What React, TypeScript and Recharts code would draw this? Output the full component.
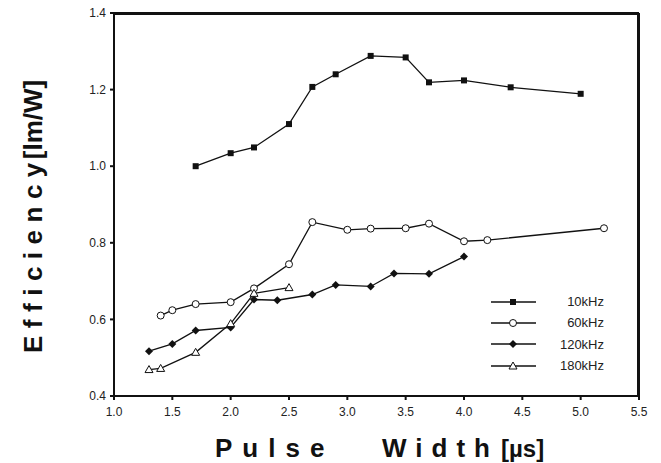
import { LineChart, Line, XAxis, YAxis } from 'recharts'

const X_10 = [1.7, 2.0, 2.2, 2.5, 2.7, 2.9, 3.2, 3.5, 3.7, 4.0, 4.4, 5.0]
const Y_10 = [1.0, 1.034, 1.049, 1.11, 1.207, 1.24, 1.288, 1.284, 1.219, 1.224, 1.206, 1.189]
const X_60 = [1.4, 1.5, 1.7, 2.0, 2.2, 2.5, 2.7, 3.0, 3.2, 3.5, 3.7, 4.0, 4.2, 5.2]
const Y_60 = [0.61, 0.624, 0.64, 0.645, 0.681, 0.744, 0.854, 0.834, 0.837, 0.838, 0.85, 0.804, 0.807, 0.838]
const X_120 = [1.3, 1.5, 1.7, 2.0, 2.2, 2.4, 2.7, 2.9, 3.2, 3.4, 3.7, 4.0]
const Y_120 = [0.517, 0.536, 0.571, 0.579, 0.652, 0.65, 0.665, 0.69, 0.686, 0.72, 0.719, 0.764]
const X_180 = [1.3, 1.4, 1.7, 2.0, 2.2, 2.5]
const Y_180 = [0.469, 0.472, 0.514, 0.589, 0.668, 0.683]

const X_TICKS = [1.0, 1.5, 2.0, 2.5, 3.0, 3.5, 4.0, 4.5, 5.0, 5.5]
const Y_TICKS = [0.4, 0.6, 0.8, 1.0, 1.2, 1.4]
const Y_MINOR = [0.4, 0.5, 0.6, 0.7, 0.8, 0.9, 1.0, 1.1, 1.2, 1.3, 1.4]
const NAMES = ['10kHz', '60kHz', '120kHz', '180kHz']

const zip = (xs: number[], ys: number[]) => xs.map((x, i) => ({ x, y: ys[i] }))
const SERIES = [zip(X_10, Y_10), zip(X_60, Y_60), zip(X_120, Y_120), zip(X_180, Y_180)]

const INK = '#111'
const FONT = '"Liberation Sans", Arial, sans-serif'

function Marker({ kind, cx, cy }: { kind: number; cx: number; cy: number }) {
  if (kind === 0) return <rect x={cx - 3} y={cy - 3} width={6} height={6} fill={INK} />
  if (kind === 1) return <circle cx={cx} cy={cy} r={3.5} fill="#fff" stroke={INK} strokeWidth={1} />
  if (kind === 2)
    return <polygon points={`${cx},${cy - 4} ${cx + 4},${cy} ${cx},${cy + 4} ${cx - 4},${cy}`} fill={INK} />
  return (
    <polygon points={`${cx},${cy - 4} ${cx + 4},${cy + 3} ${cx - 4},${cy + 3}`} fill="#fff" stroke={INK} strokeWidth={1} />
  )
}

const dot = (kind: number) => (p: any) =>
  p.cx == null ? <g key={p.index} /> : <Marker key={p.index} kind={kind} cx={p.cx} cy={p.cy} />

const tickStyle = { fontSize: 12, fill: '#222', fontFamily: FONT }
const titleStyle = { fontFamily: FONT, fontWeight: 700, fontSize: 26, fill: INK }
const axisStroke = { stroke: INK, strokeWidth: 2 }

export default function App() {
  return (
    <div style={{ position: 'absolute', left: 0, top: 0, width: 661, height: 463, background: '#fff' }}>
      <LineChart width={661} height={463} margin={{ top: 13, right: 22, left: 0, bottom: 0 }}>
        <XAxis type="number" dataKey="x" domain={[1.0, 5.5]} ticks={X_TICKS} height={67}
          tickFormatter={(v: number) => v.toFixed(1)} tick={tickStyle} axisLine={axisStroke} tickLine={axisStroke}
          tickSize={4} tickMargin={7} allowDuplicatedCategory={false} />
        <XAxis xAxisId="top" orientation="top" mirror type="number" dataKey="x" domain={[1.0, 5.5]}
          ticks={X_TICKS} tick={false} axisLine={axisStroke} tickLine={axisStroke} tickSize={5} height={1}
          allowDuplicatedCategory={false} />
        <YAxis type="number" dataKey="y" domain={[0.4, 1.4]} ticks={Y_TICKS} width={114}
          tickFormatter={(v: number) => v.toFixed(1)} tick={tickStyle} axisLine={axisStroke} tickLine={axisStroke}
          tickSize={4} tickMargin={4} />
        <YAxis yAxisId="right" orientation="right" mirror type="number" domain={[0.4, 1.4]} ticks={Y_MINOR}
          tick={false} axisLine={axisStroke} tickLine={axisStroke} tickSize={5} width={1} />
        <rect x={114} y={14} width={524} height={382} fill="none" stroke={INK} strokeWidth={2} />
        {SERIES.map((d, i) => (
          <Line key={NAMES[i]} data={d} dataKey="y" name={NAMES[i]} stroke={INK} strokeWidth={1.3}
            dot={dot(i)} activeDot={false} isAnimationActive={false} legendType="none" />
        ))}
        <text x={42} y={353} transform="rotate(-90 42 353)" textAnchor="start" style={titleStyle}>
          <tspan letterSpacing={7.5}>Efficiency</tspan>
          <tspan dx={-4} letterSpacing={0}>[lm/W]</tspan>
        </text>
        <text x={215} y={457} style={titleStyle} letterSpacing={10}>Pulse</text>
        <text x={382} y={457} style={titleStyle} letterSpacing={9}>Width</text>
        <text x={501} y={457} style={{ ...titleStyle, fontSize: 24 }}>[µs]</text>
      </LineChart>
      <div style={{ position: 'absolute', left: 489, top: 291, width: 115 }}>
        {NAMES.map((n, i) => (
          <div key={n} style={{ display: 'flex', alignItems: 'center', height: 21.3 }}>
            <svg width={50} height={12}>
              <line x1={2} y1={6} x2={47} y2={6} stroke={INK} strokeWidth={1.3} />
              <Marker kind={i} cx={24} cy={6} />
            </svg>
            <span style={{ flex: 1, textAlign: 'right', fontFamily: FONT, fontSize: 13, color: '#222' }}>{n}</span>
          </div>
        ))}
      </div>
    </div>
  )
}
